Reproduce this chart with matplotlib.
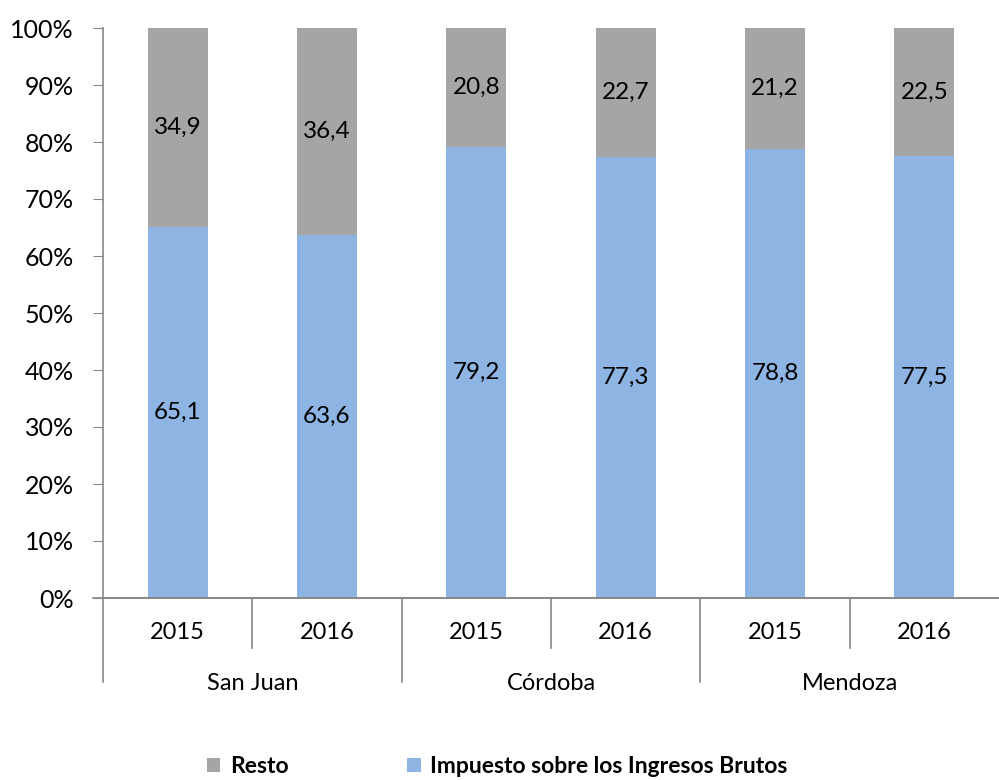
import matplotlib.pyplot as plt
from matplotlib.lines import Line2D
import numpy as np

plt.rcParams['font.family'] = ['Lato', 'DejaVu Sans']

# data
provincias = ['San Juan', 'Córdoba', 'Mendoza']
anios = ['2015', '2016', '2015', '2016', '2015', '2016']
iibb = [65.1, 63.6, 79.2, 77.3, 78.8, 77.5]
resto = [34.9, 36.4, 20.8, 22.7, 21.2, 22.5]

azul = '#8EB4E3'
gris = '#A5A5A5'


def fmt(v):
    return ('%.1f' % v).replace('.', ',')


def main():
    fig = plt.figure(figsize=(9.99, 7.80), dpi=100)
    ax = fig.add_axes([103 / 999, 182 / 780, 896 / 999, 570 / 780])

    x = np.arange(len(anios))
    b1 = ax.bar(x, iibb, width=0.4, color=azul, label='Impuesto sobre los Ingresos Brutos')
    b2 = ax.bar(x, resto, width=0.4, bottom=iibb, color=gris, label='Resto')

    for i in x:
        ax.text(i, iibb[i] / 2, fmt(iibb[i]), ha='center', va='center', fontsize=17.5)
        ax.text(i, iibb[i] + resto[i] / 2, fmt(resto[i]), ha='center', va='center', fontsize=17.5)

    ax.set_xlim(-0.5, len(anios) - 0.5)
    ax.set_ylim(0, 100)
    ax.set_yticks(range(0, 101, 10))
    ax.set_yticklabels(['%d%%' % v for v in range(0, 101, 10)], fontsize=18)
    ax.tick_params(axis='y', length=7, color='#878787', pad=14)
    ax.set_xticks([])

    for s in ['top', 'right']:
        ax.spines[s].set_visible(False)
    ax.spines['left'].set_color('#878787')
    ax.spines['bottom'].set_color('#878787')
    ax.spines['left'].set_linewidth(1.2)
    ax.spines['bottom'].set_linewidth(1.2)

    # grouped category axis
    tr = ax.get_xaxis_transform()
    ax.add_line(Line2D([-0.57, 5.5], [0, 0], transform=tr, color='#878787', lw=1.2, clip_on=False))
    for i in x:
        ax.text(i, -0.06, anios[i], transform=tr, ha='center', va='center', fontsize=17)
    for b in [0.5, 2.5, 4.5]:
        ax.add_line(Line2D([b, b], [0, -0.088], transform=tr, color='#878787', lw=1.2, clip_on=False))
    for b in [-0.5, 1.5, 3.5]:
        ax.add_line(Line2D([b, b], [0, -0.148], transform=tr, color='#878787', lw=1.2, clip_on=False))
    for k, p in enumerate(provincias):
        ax.text(2 * k + 0.5, -0.15, p, transform=tr, ha='center', va='center', fontsize=17)

    ax.legend(handles=[b2, b1], loc='center', bbox_to_anchor=(0.44, -0.296),
              ncol=2, frameon=False, handlelength=0.6, handleheight=0.6,
              handletextpad=0.4, columnspacing=5.2,
              prop={'weight': 'bold', 'size': 16.5})

    fig.savefig('out.png', dpi=100)


if __name__ == '__main__':
    main()
